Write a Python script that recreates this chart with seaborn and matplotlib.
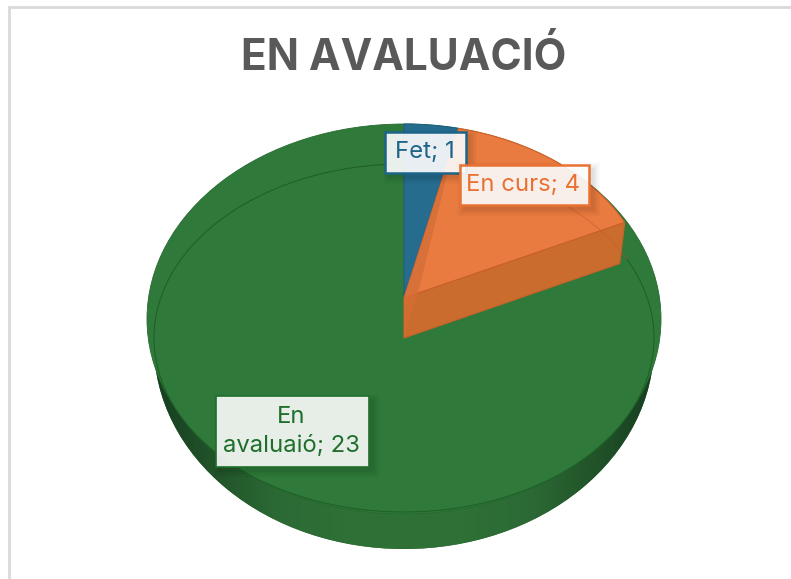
import numpy as np
import matplotlib
matplotlib.use('Agg')
import matplotlib.pyplot as plt
from matplotlib.colors import LinearSegmentedColormap
from matplotlib.patches import Ellipse, Polygon, Rectangle
import seaborn as sns

categories = ['Fet', 'En curs', 'En avaluaió']
values = [1, 4, 23]
title = 'EN AVALUACIÓ'
box_labels = ['Fet; 1', 'En curs; 4', 'En\navaluaió; 23']

blue, orange, green = '#256c8f', '#e97a40', '#2f7a3a'
edge_colors = ['#1c6488', '#e97132', '#1f6e2c']

sns.set_theme(style='white')
plt.rcParams['font.family'] = ['Inter', 'DejaVu Sans']

W, H = 791, 579
fig = plt.figure(figsize=(W / 100, H / 100), dpi=100, facecolor='white')
ax = fig.add_axes([0, 0, 1, 1])
ax.set_xlim(0, W)
ax.set_ylim(H, 0)
ax.axis('off')

# frame of the chart area, only top and left show
ax.plot([9, 9, W], [H, 7, 7], color='#d9d9d9', lw=2, solid_joinstyle='miter', zorder=1)

ax.text(404, 58, title, ha='center', va='center', fontsize=30.5, fontweight='bold',
        color='#595959', zorder=10)

cx, top_cy, low_cy = 404, 298, 338
rx, ry = 245, 174

# side of the pie, darker towards both ends
lower = Ellipse((cx, 345), 500, 408, fc='#2d6c36', ec='none', zorder=2)
ax.add_patch(lower)
rim_cmap = LinearSegmentedColormap.from_list(
    'rim', ['#173f20', '#22552a', '#2c6a35', '#2e7036', '#2e7036', '#2e7036',
            '#2c6a35', '#22552a', '#173f20'])
grad = np.linspace(0, 1, 300)[None, :]
im = ax.imshow(grad, cmap=rim_cmap, extent=(154, 654, 549, 340), aspect='auto', zorder=3)
im.set_clip_path(lower)
ax.set_xlim(0, W)
ax.set_ylim(H, 0)

# green top, wider than the outline below it
ax.add_patch(Ellipse((cx, 319), 514, 390, fc=green, ec='#27692f', lw=0.6, zorder=4))
ax.add_patch(Ellipse((cx, low_cy), 500, 348, fc=green, ec='#1f6029', lw=0.8, zorder=5))

# pie top face in its own stretched axes, so the wedges come from the values
pie_ax = fig.add_axes([(cx - rx) / W, 1 - (top_cy + ry) / H, 2 * rx / W, 2 * ry / H])
pie_ax.patch.set_alpha(0)
pie_ax.set_zorder(ax.get_zorder() + 1)
wedges, _ = pie_ax.pie(values, startangle=90, counterclock=False, radius=1,
                       colors=[blue, orange, 'none'],
                       wedgeprops={'linewidth': 0.8})
wedges[0].set_edgecolor('#1f5f80')
wedges[1].set_edgecolor('#cf6128')
wedges[2].set_edgecolor('none')
pie_ax.set_aspect('auto')
pie_ax.set_xlim(-1, 1)
pie_ax.set_ylim(-1, 1)

# overlay for walls and labels sits above the pie
over = fig.add_axes([0, 0, 1, 1])
over.set_xlim(0, W)
over.set_ylim(H, 0)
over.axis('off')
over.patch.set_alpha(0)
over.set_zorder(pie_ax.get_zorder() + 1)

ang = np.radians(np.cumsum(values) / np.sum(values) * 360)
x1 = cx + rx * np.sin(ang[0])
y1 = top_cy - ry * np.cos(ang[0])
x2 = cx + rx * np.sin(ang[1])
y2 = top_cy - ry * np.cos(ang[1])

over.add_patch(Polygon([(cx, top_cy), (x2, y2), (x2 - 5, y2 + 41), (cx, low_cy)], closed=True,
                       fc='#c96c2e', ec='#c9602a', lw=0.8, zorder=3))
over.add_patch(Polygon([(cx, top_cy), (x1, y1), (418, 293)], closed=True,
                       fc='#d8703a', ec='none', zorder=3))
over.add_patch(Polygon([(cx, top_cy), (418, 293), (cx, low_cy)], closed=True,
                       fc='#d26c30', ec='none', zorder=4))

# ellipse line faintly visible through the orange slice
arc = np.radians(np.linspace(-55, -27, 40))
over.plot(cx + 250 * np.cos(arc), low_cy + 174 * np.sin(arc), color='#c9602a', lw=0.7, alpha=0.6, zorder=5)

boxes = [(385, 132, 81, 41, 0.90, 8, 1.8), (460, 165, 129, 40, 0.90, 9, 1.8),
         (216, 396, 153, 71, 0.89, 8, 1.2)]
for (x, y, w, h, a, z, edge_lw), lab, col in zip(boxes, box_labels, edge_colors):
    # soft shadow
    for grow, sa in zip([14, 11, 8, 5, 2], [0.015, 0.02, 0.025, 0.03, 0.035]):
        over.add_patch(Rectangle((x + 4 - grow / 2, y + 4 - grow / 2), w + grow, h + grow,
                                 fc='black', ec='none', alpha=sa, zorder=z))
    over.add_patch(Rectangle((x, y), w, h, fc='white', ec='none', alpha=a, zorder=z))
    over.add_patch(Rectangle((x, y), w, h, fc='none', ec=col, lw=edge_lw, zorder=z))
    over.text(x + w / 2 - 1, y + h / 2, lab, ha='center', va='center', fontsize=17.2, color=col,
              linespacing=1.45, zorder=z + 0.5)

fig.savefig('out.png', dpi=100)
